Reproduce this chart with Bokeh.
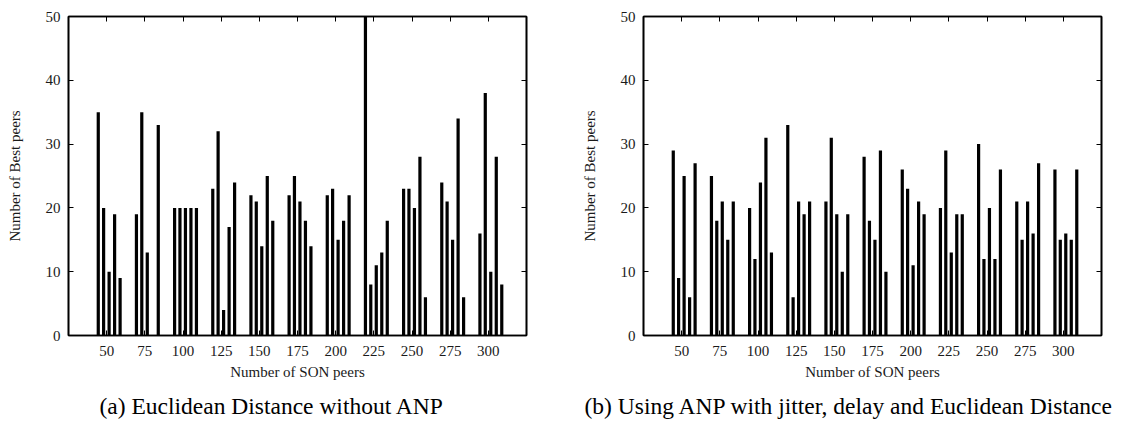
from bokeh.plotting import figure
from bokeh.models import (LinearAxis, FixedTicker, Range1d, Title, ColumnDataSource,
                          CustomLabelingPolicy)
from bokeh.layouts import row
from bokeh.embed import file_html
from bokeh.resources import INLINE

# ---- data ----
groups = [50, 75, 100, 125, 150, 175, 200, 225, 250, 275, 300]
bar_offsets = [-5.5, -2.0, 1.6, 5.2, 8.8]   # position of each of the 5 runs inside a group

# (a) Euclidean Distance without ANP
values_a = [
    [35, 20, 10, 19, 9],
    [19, 35, 13, 0, 33],
    [20, 20, 20, 20, 20],
    [23, 32, 4, 17, 24],
    [22, 21, 14, 25, 18],
    [22, 25, 21, 18, 14],
    [22, 23, 15, 18, 22],
    [50, 8, 11, 13, 18],
    [23, 23, 20, 28, 6],
    [24, 21, 15, 34, 6],
    [16, 38, 10, 28, 8],
]

# (b) Using ANP with jitter, delay and Euclidean Distance
values_b = [
    [29, 9, 25, 6, 27],
    [25, 18, 21, 15, 21],
    [20, 12, 24, 31, 13],
    [33, 6, 21, 19, 21],
    [21, 31, 19, 10, 19],
    [28, 18, 15, 29, 10],
    [26, 23, 11, 21, 19],
    [20, 29, 13, 19, 19],
    [30, 12, 20, 12, 26],
    [21, 15, 21, 16, 27],
    [26, 15, 16, 15, 26],
]

x_ticks = [50, 75, 100, 125, 150, 175, 200, 225, 250, 275, 300]
y_ticks = [0, 10, 20, 30, 40, 50]
x_label = "Number of SON peers"
y_label = "Number of Best peers"
caption_a = "(a)  Euclidean Distance without ANP"
caption_b = "(b)  Using ANP with jitter, delay and Euclidean Distance"

FONT = "Liberation Serif"
TXT = "#1a1a1a"


def style_axis(ax, ticks, show_labels=True):
    ax.ticker = FixedTicker(ticks=ticks)
    ax.minor_tick_line_color = None
    ax.major_tick_in = 5
    ax.major_tick_out = 0
    ax.major_tick_line_color = "black"
    ax.major_tick_line_width = 1
    ax.axis_line_color = "black"
    ax.axis_line_width = 1.6
    ax.major_label_text_font = FONT
    ax.major_label_text_color = TXT
    if show_labels:
        ax.major_label_text_font_size = "15px"
    else:
        ax.major_label_text_font_size = "1px"
        ax.major_label_standoff = 0
        ax.major_label_policy = CustomLabelingPolicy(code="return []")
    ax.axis_label_text_font = FONT
    ax.axis_label_text_font_size = "15px"
    ax.axis_label_text_font_style = "normal"
    ax.axis_label_text_color = TXT


def make_plot(values, caption, border_left, border_right, cap_offset):
    p = figure(
        frame_width=458, frame_height=319,
        min_border_left=border_left, min_border_right=border_right,
        min_border_top=16, min_border_bottom=0,
        x_range=Range1d(25, 325), y_range=Range1d(0, 50),
        output_backend="svg", toolbar_location=None,
    )
    xs, tops = [], []
    for g, vals in zip(groups, values):
        for off, v in zip(bar_offsets, vals):
            if v > 0:
                xs.append(g + off)
                tops.append(v)
    src = ColumnDataSource(dict(x=xs, top=tops))
    p.vbar(x="x", top="top", bottom=0, width=2.1, source=src,
           fill_color="black", line_color=None)

    p.xgrid.visible = False
    p.ygrid.visible = False
    p.outline_line_color = "black"
    p.outline_line_width = 1.6
    p.background_fill_color = "white"
    p.border_fill_color = "white"

    style_axis(p.xaxis[0], x_ticks)
    style_axis(p.yaxis[0], y_ticks)
    p.xaxis[0].axis_label = x_label
    p.yaxis[0].axis_label = y_label
    p.xaxis[0].major_label_standoff = 10
    p.yaxis[0].major_label_standoff = 8
    p.xaxis[0].axis_label_standoff = 5
    p.yaxis[0].axis_label_standoff = 20

    top_ax = LinearAxis()
    style_axis(top_ax, x_ticks, show_labels=False)
    p.add_layout(top_ax, "above")
    right_ax = LinearAxis()
    style_axis(right_ax, y_ticks, show_labels=False)
    p.add_layout(right_ax, "right")

    t = Title(text=caption, align="left", offset=cap_offset,
              text_font=FONT, text_font_size="23.5px", text_font_style="normal",
              text_color="black", standoff=17)
    p.add_layout(t, "below")
    return p


p1 = make_plot(values_a, caption_a, 68, 37, 31)
p2 = make_plot(values_b, caption_b, 80, 25, -59)

layout = row(p1, p2)
open("out.html", "w").write(file_html(layout, INLINE))
